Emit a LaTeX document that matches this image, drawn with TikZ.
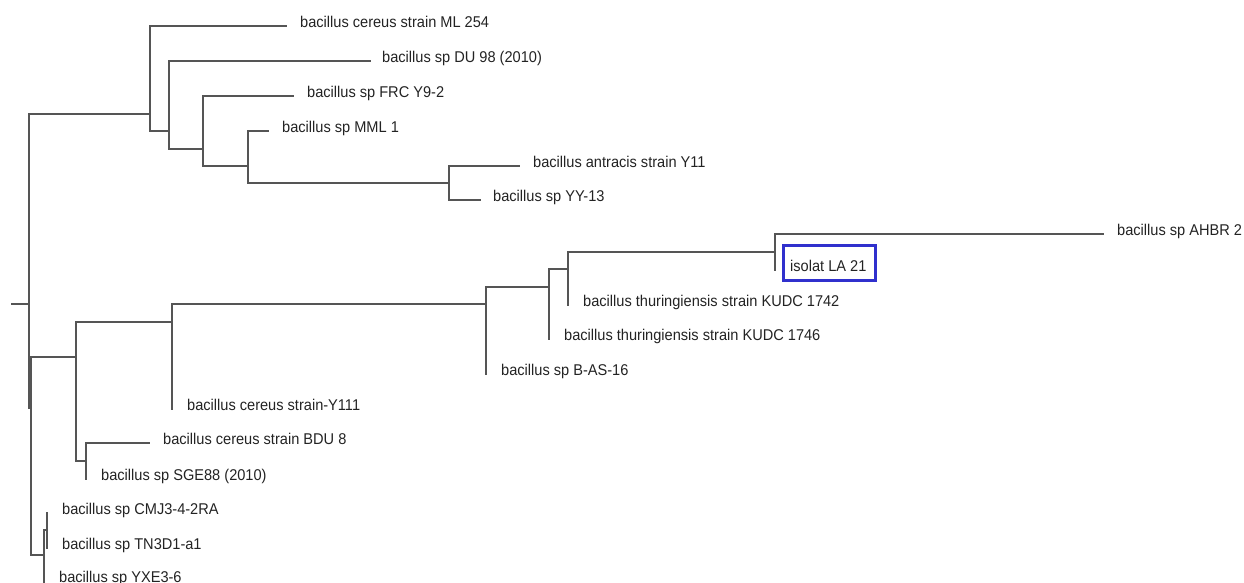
\documentclass[tikz,border=0pt]{standalone}
\usepackage{fontspec}
\setmainfont{Liberation Sans}[FakeStretch=0.935]
\definecolor{branch}{RGB}{85,85,85}
\definecolor{txt}{RGB}{35,35,35}
\definecolor{boxblue}{RGB}{48,48,205}
\tikzset{
  br/.style={draw=branch, line width=1.6pt, line cap=rect},
  lbl/.style={anchor=base west, inner sep=0pt, text=txt, yshift=-1.5pt, font=\fontsize{15.6}{18}\selectfont},
  hilite/.style={draw=boxblue, line width=2.6pt, inner sep=0pt, minimum width=92pt, minimum height=35pt}
}
\begin{document}
\begin{tikzpicture}[x=1pt,y=-1pt]
\useasboundingbox (0,0) rectangle (1244,583);
% internal nodes
\coordinate (tick) at (12,304);
\coordinate (rt) at (29,304);
\coordinate (A) at (150,114);
\coordinate (B) at (169,131);
\coordinate (C) at (203,149);
\coordinate (D) at (248,166);
\coordinate (E) at (449,183);
\coordinate (F) at (31,408);
\coordinate (G) at (76,357);
\coordinate (I) at (172,322);
\coordinate (L) at (486,304);
\coordinate (M) at (549,287);
\coordinate (N) at (568,269);
\coordinate (O) at (775,252);
\coordinate (J) at (86,461);
\coordinate (H) at (44,555);
\coordinate (K) at (47,530);
% leaf end points
\coordinate (lML) at (286,26);
\coordinate (lDU) at (370,61);
\coordinate (lFRC) at (293,96);
\coordinate (lMML) at (268,131);
\coordinate (lY11) at (519,166);
\coordinate (lYY) at (480,200);
\coordinate (lAHBR) at (1103,234);
\coordinate (lLA) at (775,270);
\coordinate (l1742) at (568,305);
\coordinate (l1746) at (549,339);
\coordinate (lBAS) at (486,374);
\coordinate (lY111) at (172,409);
\coordinate (lBDU) at (149,443);
\coordinate (lSGE) at (86,479);
\coordinate (lCMJ) at (47,513);
\coordinate (lTN) at (47,548);
\coordinate (lYXE) at (44,584);
% branches
\draw[br] (tick) -- (rt);
\draw[br] (A) -| (rt) |- (F);
\draw[br] (lML) -| (A) |- (B);
\draw[br] (lDU) -| (B) |- (C);
\draw[br] (lFRC) -| (C) |- (D);
\draw[br] (lMML) -| (D) |- (E);
\draw[br] (lY11) -| (E) |- (lYY);
\draw[br] (G) -| (F) |- (H);
\draw[br] (I) -| (G) |- (J);
\draw[br] (L) -| (I) |- (lY111);
\draw[br] (M) -| (L) |- (lBAS);
\draw[br] (N) -| (M) |- (l1746);
\draw[br] (O) -| (N) |- (l1742);
\draw[br] (lAHBR) -| (O) |- (lLA);
\draw[br] (lBDU) -| (J) |- (lSGE);
\draw[br] (K) -| (H) |- (lYXE);
\draw[br] (lCMJ) -| (K) |- (lTN);
% labels
\node[lbl] (tML) at (300,26) {bacillus cereus strain ML 254};
\node[lbl] (tDU) at (382,61) {bacillus sp DU 98 (2010)};
\node[lbl] (tFRC) at (307,96) {bacillus sp FRC Y9-2};
\node[lbl] (tMML) at (282,131) {bacillus sp MML 1};
\node[lbl] (tY11) at (533,166) {bacillus antracis strain Y11};
\node[lbl] (tYY) at (493,200) {bacillus sp YY-13};
\node[lbl] (tAHBR) at (1117,234) {bacillus sp AHBR 2};
\node[lbl] (tLA) at (790,270) {isolat LA 21};
\node[lbl] (t1742) at (583,305) {bacillus thuringiensis strain KUDC 1742};
\node[lbl] (t1746) at (564,339) {bacillus thuringiensis strain KUDC 1746};
\node[lbl] (tBAS) at (501,374) {bacillus sp B-AS-16};
\node[lbl] (tY111) at (187,409) {bacillus cereus strain-Y111};
\node[lbl] (tBDU) at (163,443) {bacillus cereus strain BDU 8};
\node[lbl] (tSGE) at (101,479) {bacillus sp SGE88 (2010)};
\node[lbl] (tCMJ) at (62,513) {bacillus sp CMJ3-4-2RA};
\node[lbl] (tTN) at (62,548) {bacillus sp TN3D1-a1};
\node[lbl] (tYXE) at (59,580.5) {bacillus sp YXE3-6};
% highlight box
\node[hilite] (box) at (829.5,263) {};
\end{tikzpicture}
\end{document}
